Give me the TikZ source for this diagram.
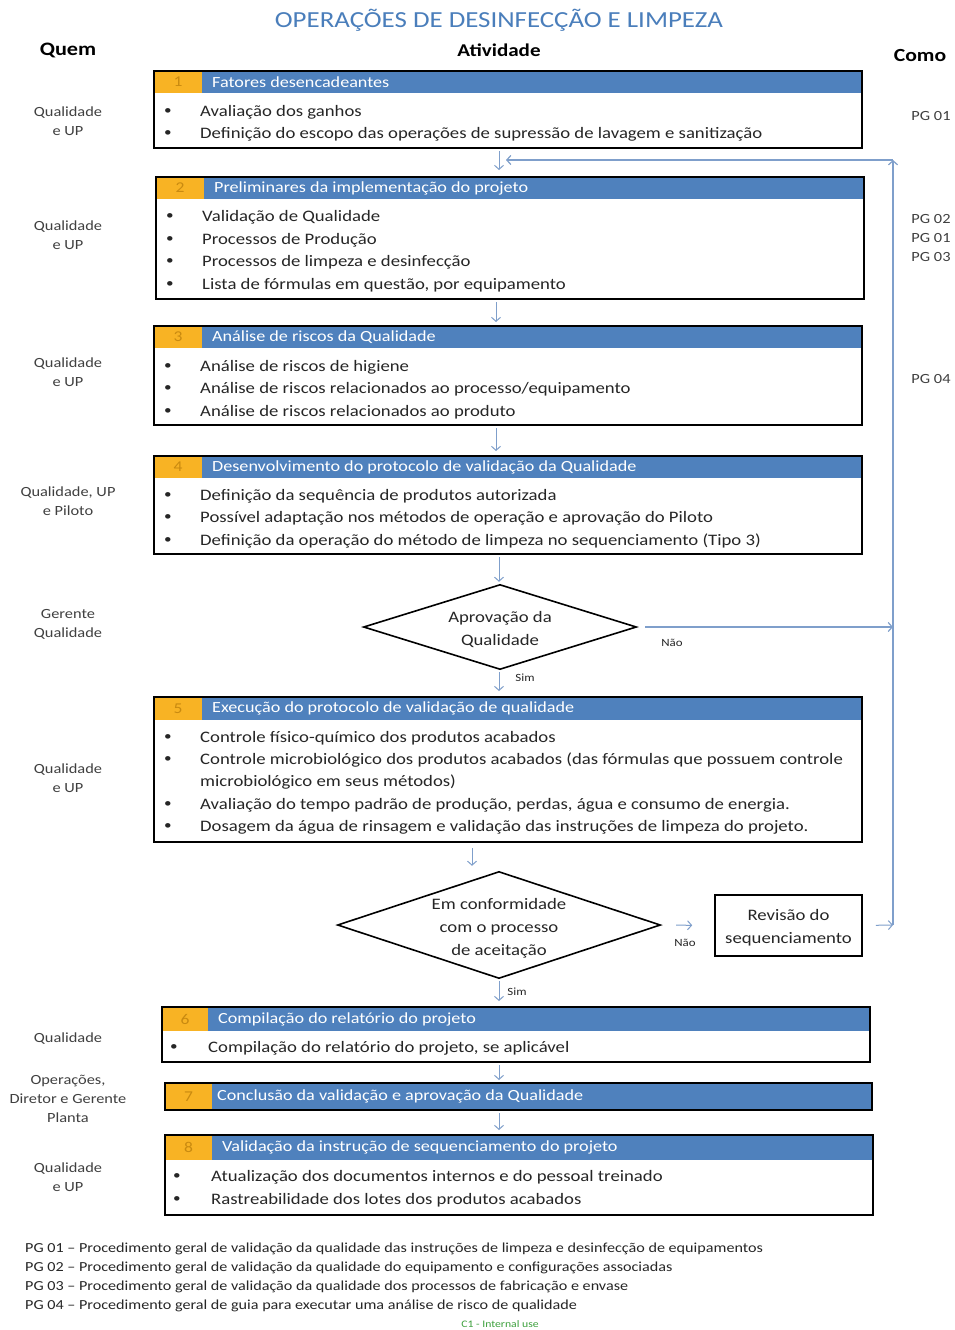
\documentclass[tikz,border=0pt]{standalone}
\usepackage{fontspec}
\setmainfont{Carlito}[FakeStretch=1.17]
\usetikzlibrary{arrows.meta,calc}
\definecolor{hdrblue}{HTML}{4F81BD}
\definecolor{numorange}{HTML}{F8B324}
\definecolor{numtxt}{HTML}{C98A10}
\definecolor{arrowc}{HTML}{7F9FCB}
\definecolor{txt}{HTML}{262626}
\definecolor{wholbl}{HTML}{404040}
\definecolor{titleblue}{HTML}{4A7EBB}
\definecolor{okgreen}{HTML}{3CA03C}
\newcommand\mystage[9]{%
  \node[hdr, minimum width=#4, minimum height=#6, anchor=north west] (#1h) at (#2,#3) {};
  \node[numcell, minimum width=#7, minimum height=#6, anchor=north west] (#1n) at (#2,#3) {#8};
  \node[hdrtext, anchor=west] (#1t) at ([xshift=10pt]#1n.east) {#9};
  \node[stagebox, minimum width=#4, minimum height=#5, anchor=north west] (#1) at (#2,#3) {};
}
\newcommand\myitem[5]{%
  \node[bul] (#1b) at (#2,#4) {\textbullet};
  \node[itm] (#1) at (#3,#4) {#5};
}
\newcommand\mydiamond[1]{%
  \draw[line width=1.6pt, black, line join=miter] (#1.west) -- (#1.north) -- (#1.east) -- (#1.south) -- cycle;
}
\begin{document}
\begin{tikzpicture}[x=1pt,y=-1pt,
  hdr/.style={rectangle, fill=hdrblue, draw=none, inner sep=0pt, outer sep=0pt},
  numcell/.style={rectangle, fill=numorange, text=numtxt, font=\fontsize{15}{18}\selectfont, inner sep=0pt, outer sep=0pt},
  hdrtext/.style={text=white, font=\fontsize{15.5}{18}\selectfont, inner sep=0pt},
  stagebox/.style={rectangle, draw=black, line width=2pt, inner sep=0pt, outer sep=0pt},
  itm/.style={anchor=west, text=txt, font=\fontsize{16}{19}\selectfont, inner sep=0pt, text height=15pt, text depth=2pt},
  bul/.style={text=txt, font=\fontsize{13}{16}\selectfont, inner sep=0pt, yshift=-2pt},
  who/.style={align=center, text=wholbl, font=\fontsize{14}{19}\selectfont, inner sep=0pt},
  como/.style={align=center, text=wholbl, font=\fontsize{14}{19}\selectfont, inner sep=0pt},
  decshape/.style={rectangle, draw=none, inner sep=0pt},
  dectext/.style={rectangle, draw=none, inner sep=0pt, align=center, text=txt, font=\fontsize{16}{23}\selectfont},
  plain/.style={rectangle, draw=black, line width=1.6pt, inner sep=0pt},
  flow/.style={draw=arrowc, line width=1pt, -{Straight Barb[length=4pt,width=9pt]}},
  lbl/.style={text=txt, font=\fontsize{11}{13}\selectfont, inner sep=0pt},
  foot/.style={anchor=west, text=txt, font=\fontsize{13.8}{16}\selectfont, inner sep=0pt}
]
\useasboundingbox[fill=white] (0,0) rectangle (954,1330);

% titles
\node[text=titleblue, font=\fontsize{23}{26}\selectfont] (title) at (499,20) {OPERAÇÕES DE DESINFECÇÃO E LIMPEZA};
\node[text=black, font=\fontsize{19}{20}\selectfont\bfseries] (quem) at (68,50) {Quem};
\node[text=black, font=\fontsize{18}{20}\selectfont\bfseries] (ativ) at (499,50) {Atividade};
\node[text=black, font=\fontsize{18.5}{20}\selectfont\bfseries] (comoh) at (920,56) {Como};

% stage boxes
\mystage{s1}{154}{71}{708}{77}{22}{48}{1}{Fatores desencadeantes}
\myitem{s1a}{168}{200}{110}{Avaliação dos ganhos}
\myitem{s1b}{168}{200}{132}{Definição do escopo das operações de supressão de lavagem e sanitização}

\mystage{s2}{156}{177}{708}{122}{22}{48}{2}{Preliminares da implementação do projeto}
\myitem{s2a}{170}{202}{215}{Validação de Qualidade}
\myitem{s2b}{170}{202}{238}{Processos de Produção}
\myitem{s2c}{170}{202}{260}{Processos de limpeza e desinfecção}
\myitem{s2d}{170}{202}{283}{Lista de fórmulas em questão, por equipamento}

\mystage{s3}{154}{326}{708}{99}{22}{48}{3}{Análise de riscos da Qualidade}
\myitem{s3a}{168}{200}{365}{Análise de riscos de higiene}
\myitem{s3b}{168}{200}{387}{Análise de riscos relacionados ao processo/equipamento}
\myitem{s3c}{168}{200}{410}{Análise de riscos relacionados ao produto}

\mystage{s4}{154}{456}{708}{98}{22}{48}{4}{Desenvolvimento do protocolo de validação da Qualidade}
\myitem{s4a}{168}{200}{494}{Definição da sequência de produtos autorizada}
\myitem{s4b}{168}{200}{516}{Possível adaptação nos métodos de operação e aprovação do Piloto}
\myitem{s4c}{168}{200}{539}{Definição da operação do método de limpeza no sequenciamento (Tipo 3)}

\node[decshape, minimum width=272, minimum height=84] (d1) at (500,627) {};
\mydiamond{d1}
\node[dectext] (d1t) at (500,629.5) {Aprovação da\\Qualidade};

\mystage{s5}{154}{697}{708}{145}{23}{48}{5}{Execução do protocolo de validação de qualidade}
\myitem{s5a}{168}{200}{736}{Controle físico-químico dos produtos acabados}
\myitem{s5b}{168}{200}{758}{Controle microbiológico dos produtos acabados (das fórmulas que possuem controle}
\node[itm] (s5bb) at (200,780) {microbiológico em seus métodos)};
\myitem{s5c}{168}{200}{803}{Avaliação do tempo padrão de produção, perdas, água e consumo de energia.}
\myitem{s5d}{168}{200}{825}{Dosagem da água de rinsagem e validação das instruções de limpeza do projeto.}

\node[decshape, minimum width=322, minimum height=106] (d2) at (499,925) {};
\mydiamond{d2}
\node[dectext] (d2t) at (499,928) {Em conformidade\\com o processo\\de aceitação};
\node[plain, minimum width=147, minimum height=61] (rev) at (788.5,925.5) {};
\node[dectext] (revt) at (788.5,927.5) {Revisão do\\sequenciamento};

\mystage{s6}{162}{1007}{708}{55}{24}{46}{6}{Compilação do relatório do projeto}
\myitem{s6a}{174}{208}{1046}{Compilação do relatório do projeto, se aplicável}

\mystage{s7}{165}{1083}{707}{27}{27}{47}{7}{\hspace*{-5pt}Conclusão da validação e aprovação da Qualidade}

\mystage{s8}{165}{1135}{708}{80}{25}{47}{8}{Validação da instrução de sequenciamento do projeto}
\myitem{s8a}{177}{211}{1175}{Atualização dos documentos internos e do pessoal treinado}
\myitem{s8b}{177}{211}{1198}{Rastreabilidade dos lotes dos produtos acabados}

% who labels
\node[who] (w1) at (68,121) {Qualidade\\e UP};
\node[who] (w2) at (68,235) {Qualidade\\e UP};
\node[who] (w3) at (68,372) {Qualidade\\e UP};
\node[who] (w4) at (68,501) {Qualidade, UP\\e Piloto};
\node[who] (w5) at (68,624) {Gerente\\Qualidade};
\node[who] (w6) at (68,778) {Qualidade\\e UP};
\node[who] (w7) at (68,1038.5) {Qualidade};
\node[who] (w8) at (68,1098.5) {Operações,\\Diretor e Gerente\\Planta};
\node[who] (w9) at (68,1177) {Qualidade\\e UP};

% como labels
\node[como] (c1) at (931,116.5) {PG 01};
\node[como] (c2) at (931,238.5) {PG 02\\PG 01\\PG 03};
\node[como] (c3) at (931,379.5) {PG 04};

% helper coordinates
\coordinate (ax) at (499,0);
\coordinate (ax2) at (496,0);
\coordinate (ax3) at (472,0);
\coordinate (fbtop) at (893,160);
\coordinate (fbbot) at (893,925);
\coordinate (fbmid) at (893,627);
\coordinate (fbend) at (506,160);

% flow arrows
\draw[flow, shorten <=3pt, shorten >=7pt] (s1.south -| ax) -- (s2.north -| ax);
\draw[flow, shorten <=3pt, shorten >=4pt] (s2.south -| ax2) -- (s3.north -| ax2);
\draw[flow, shorten <=3pt, shorten >=5pt] (s3.south -| ax2) -- (s4.north -| ax2);
\draw[flow, shorten <=3pt, shorten >=3pt] (s4.south -| ax) -- (d1.north -| ax);
\draw[flow, shorten <=3pt, shorten >=6pt] (d1.south -| ax) -- (s5.north -| ax);
\node[lbl] (sim1) at (525,678) {Sim};
\draw[flow, shorten <=6pt, shorten >=6pt] (s5.south -| ax3) -- (d2.north -| ax3);
\draw[flow, shorten <=3pt, shorten >=6pt] (d2.south -| ax) -- (s6.north -| ax);
\node[lbl] (sim2) at (517,992) {Sim};
\draw[flow, shorten <=3pt, shorten >=3pt] (s6.south -| ax) -- (s7.north -| ax);
\draw[flow, shorten <=3pt, shorten >=5pt] (s7.south -| ax) -- (s8.north -| ax);

% no branches
\draw[flow, shorten <=16pt, shorten >=22pt] (d2.east) -- (rev.west);
\node[lbl] (nao2) at (685,943) {Não};
\draw[flow, shorten <=13pt] (rev.east) -- (fbbot);
\draw[flow, line width=1.2pt, shorten <=9pt] (d1.east) -- (fbmid);
\node[lbl] (nao1) at (672,643) {Não};
\draw[flow, line width=1.2pt] (fbbot) -- (fbtop);
\draw[flow, line width=1.2pt] (fbtop) -- (fbend);

% footer
\node[foot] (f1) at (25,1249) {PG 01 – Procedimento geral de validação da qualidade das instruções de limpeza e desinfecção de equipamentos};
\node[foot] (f2) at (25,1268) {PG 02 – Procedimento geral de validação da qualidade do equipamento e configurações associadas};
\node[foot] (f3) at (25,1287) {PG 03 – Procedimento geral de validação da qualidade dos processos de fabricação e envase};
\node[foot] (f4) at (25,1306) {PG 04 – Procedimento geral de guia para executar uma análise de risco de qualidade};
\node[text=okgreen, font=\fontsize{10}{12}\selectfont, inner sep=0pt] (c1use) at (500,1324) {C1 - Internal use};
\end{tikzpicture}
\end{document}
